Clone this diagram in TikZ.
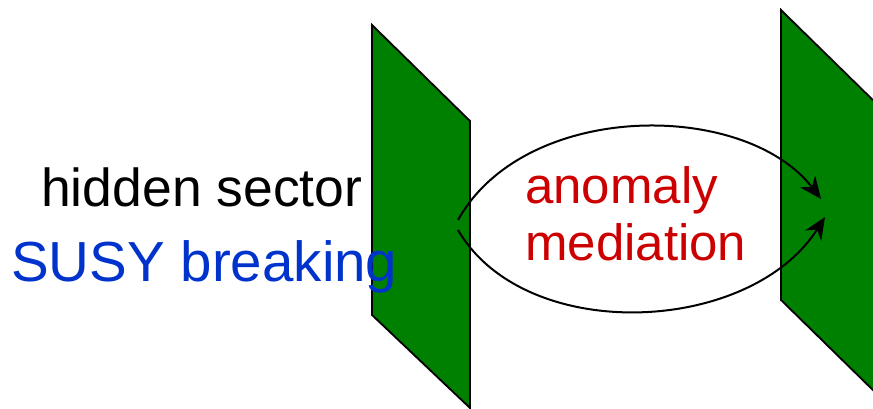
\documentclass[tikz,border=0pt]{standalone}
\usepackage{fontspec}
\setmainfont{Liberation Sans}
\usetikzlibrary{arrows.meta}
\definecolor{branegreen}{RGB}{0,128,0}
\definecolor{susyblue}{RGB}{0,51,204}
\definecolor{anomred}{RGB}{204,0,0}
\begin{document}
\begin{tikzpicture}[x=1pt,y=-1pt,
  brane/.style={fill=branegreen,draw=black,line width=1.8pt,line join=miter},
  lbl/.style={inner sep=0pt,anchor=base west},
  med/.style={draw=black,line width=2pt,-{Stealth[length=22pt,width=19pt,inset=7pt]}}]
\useasboundingbox (0,0) rectangle (873,409);
\clip (0,0) rectangle (873,409);
% branes
\draw[brane] (372,25) -- (470,121) -- (470,408) -- (372,315) -- cycle;
\draw[brane] (781,10) -- (879,106) -- (879,396) -- (781,300) -- cycle;
% labels
\node[lbl,font=\fontsize{53.5}{60}\selectfont] (hs) at (41,207) {hidden sector};
\node[lbl,font=\fontsize{56.5}{60}\selectfont,text=susyblue] (sb) at (11,281) {SUSY breaking};
\node[lbl,font=\fontsize{51}{57}\selectfont,text=anomred] (an) at (525,203) {anomaly};
\node[lbl,font=\fontsize{51}{57}\selectfont,text=anomred] (me) at (525,260) {mediation};
% arrows
\coordinate (s1) at (458,220);
\coordinate (e1) at (821,199);
\coordinate (s2) at (458,230);
\coordinate (e2) at (825,217);
\draw[med] (s1) .. controls (525,100) and (745,100) .. (e1);
\draw[med] (s2) .. controls (525,345) and (750,335) .. (e2);
\end{tikzpicture}
\end{document}
